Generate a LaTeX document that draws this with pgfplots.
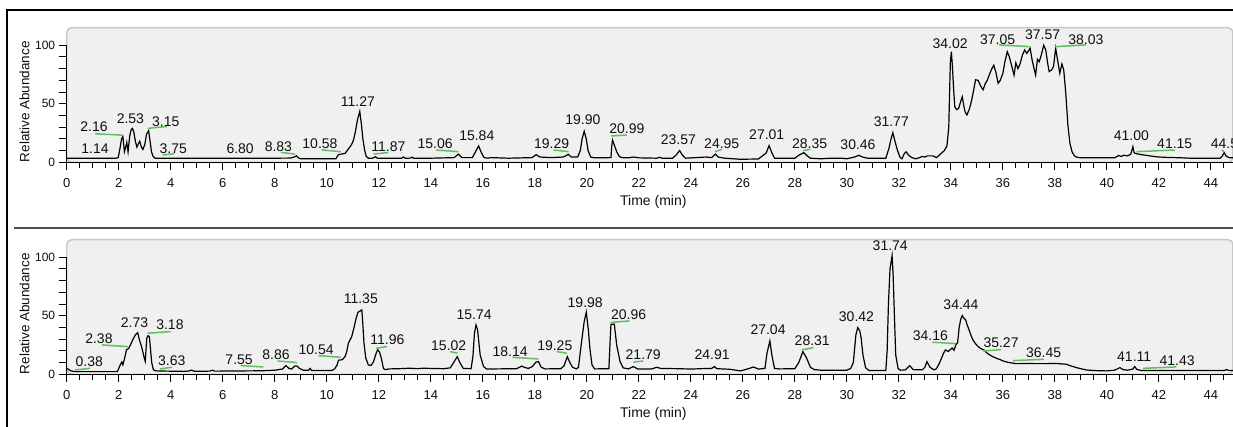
\documentclass[border=0pt]{standalone}
\usepackage{fontspec}
\setmainfont{Liberation Sans}
\usepackage{pgfplots}
\pgfplotsset{compat=1.18}
\usepackage{pgfplotstable}

\definecolor{panelgray}{RGB}{240,240,240}
\definecolor{paneledge}{RGB}{200,200,200}
\definecolor{peakgreen}{RGB}{96,190,96}
\definecolor{sepgray}{RGB}{80,80,80}
\definecolor{labeltext}{RGB}{15,15,15}

% Upper chromatogram: time (min), relative abundance (%)
\pgfplotstableread{
t v
0 3.5
1.9 3.5
1.98 4
2.05 12
2.11 20
2.16 22
2.22 9
2.27 13
2.31 17
2.36 9
2.42 22
2.48 28
2.53 29
2.58 26
2.64 18
2.7 13
2.76 16
2.81 18
2.87 13
2.93 11
3.0 15
3.07 24
3.15 27
3.2 19
3.26 9
3.32 5
3.4 3.5
8.0 3.5
8.6 3.6
8.75 4.5
8.83 5.5
8.9 4
8.98 3
10.35 3
10.45 6.5
10.55 7
10.7 7.5
10.82 11
10.95 15
11.03 19
11.1 26
11.18 36
11.27 43.5
11.33 33
11.39 20
11.46 10
11.52 5
11.6 3.5
11.75 3.4
11.87 4.7
11.95 3.5
12.88 3.5
12.95 4.6
13.02 3.4
13.22 3.6
13.28 4.4
13.34 3.5
14.0 3.5
14.9 4
15.06 7
15.2 4
15.6 4
15.72 9
15.84 14
15.95 8
16.05 4
16.2 3.5
16.3 4
17.0 3.5
17.9 4
18.05 6.5
18.2 4.5
18.6 4
19.1 4.5
19.29 6.8
19.4 4.5
19.65 4.5
19.75 10
19.82 20
19.9 26.5
19.98 20
20.05 10
20.15 4.5
20.3 3.8
20.93 4
20.96 14
20.99 19
21.07 14
21.15 9
21.25 5
21.35 4
21.6 3.8
21.8 4.5
22.0 3.8
22.7 3.5
22.8 4.3
22.9 3.5
23.3 3.5
23.45 6.5
23.57 10
23.68 6
23.8 3.5
24.6 4.5
24.8 4
24.95 7
25.05 4.5
25.3 3.5
25.9 2.6
26.6 2.8
26.9 8
27.01 14.2
27.12 8
27.22 3.5
28.0 3.5
28.15 6
28.35 8.2
28.45 6
28.6 3.5
29.0 3
29.4 3.5
29.8 3.5
30.0 3
30.3 4.5
30.46 6
30.6 4.5
30.8 3.5
31.5 3.5
31.62 12
31.7 20
31.77 25.3
31.85 18
31.95 10
32.05 4
32.12 3
32.2 7
32.28 9
32.38 6
32.5 4
32.65 3
32.8 4
32.9 5
33.0 4.5
33.1 5.5
33.3 5.5
33.45 4
33.6 7
33.75 10
33.85 14
33.92 30
33.98 85
34.02 94.5
34.06 82
34.1 65
34.15 47.5
34.22 45
34.3 46
34.38 52
34.44 56
34.5 48
34.55 43
34.62 40.5
34.72 46
34.8 53
34.88 62
34.95 70.5
35.05 70
35.15 65
35.24 62
35.32 67
35.4 70
35.5 76
35.58 80
35.65 83
35.73 77
35.82 67.5
35.9 70
36.0 76
36.08 86
36.17 94.5
36.25 90
36.32 84
36.43 74.5
36.5 85
36.58 80
36.66 84
36.75 91.5
36.84 96
36.92 93
36.98 95
37.05 97.5
37.12 88
37.2 80
37.26 74.5
37.33 88
37.4 86
37.47 91
37.57 100
37.65 96
37.72 85
37.78 77.5
37.88 79
37.95 82
38.03 97.5
38.1 88
38.19 76
38.27 84
38.34 79
38.42 59
38.5 32
38.58 16
38.66 9
38.75 5.5
38.85 4.3
39.0 3.8
40.3 3.8
40.45 5.8
40.55 5
40.65 6
40.8 5.5
40.92 7
41.0 13.3
41.05 8
41.2 7
41.5 6
41.8 5
42.0 4.5
42.3 4.2
42.6 4
42.9 3.8
43.2 3.5
44.35 3.5
44.43 5
44.51 8.2
44.58 5.5
44.7 4
44.85 3.8
}\upperTIC

% Lower chromatogram
\pgfplotstableread{
t v
0.0 5
0.05 4.5
0.15 3
0.3 2.3
1.95 2.3
2.02 6
2.08 9
2.12 10.5
2.16 8
2.22 13
2.3 21
2.38 22
2.45 25
2.55 30
2.65 34
2.73 35.5
2.8 29
2.86 25
2.92 20
2.98 14
3.02 11
3.08 31
3.13 33
3.18 32
3.22 22
3.27 10
3.33 4
3.4 3
3.6 2.8
4.5 2.5
4.7 2.8
4.8 3.6
4.9 2.6
5.5 2.7
5.6 3.5
5.7 2.7
7.5 3
8.0 3.5
8.3 4.5
8.43 7.4
8.55 5
8.65 4.5
8.78 7.2
8.86 7
8.95 5
9.1 3.5
9.3 3.5
9.36 5
9.42 3.2
10.2 3.2
10.3 4.6
10.4 8
10.45 12
10.6 12.5
10.7 15
10.77 19.4
10.83 26.5
10.96 32.2
11.05 40
11.12 47
11.2 53
11.28 54
11.35 55
11.39 42
11.43 27
11.5 14
11.6 8
11.7 7.5
11.8 10.8
11.9 18
11.96 21
12.03 19
12.1 13.7
12.18 5
12.25 4
12.4 4.6
12.8 4.8
13.2 5.2
13.5 4.8
13.7 5.2
14.0 5
14.5 4.8
14.75 5.5
14.85 9
15.02 15.1
15.12 10
15.25 5
15.55 4.8
15.62 15
15.68 35
15.74 42.2
15.8 38
15.9 16.5
16.03 6.6
16.15 4.5
16.5 4.6
17.3 4.8
17.5 7
17.6 6
17.75 5
17.9 6.5
18.05 10.5
18.14 10.8
18.25 6
18.4 4.6
19.0 4.8
19.12 7
19.25 15
19.35 10
19.45 6
19.6 4.6
19.68 6
19.8 28
19.9 45
19.98 53
20.06 38
20.12 22
20.2 8
20.3 4.6
20.85 4.8
20.9 30
20.93 42.8
21.0 42.8
21.06 42.8
21.15 25
21.28 10.8
21.4 5.5
21.6 4.6
21.79 6.6
21.95 4.6
22.5 4.6
22.69 6
22.85 5
23.5 4.8
24.0 4.5
24.3 4.7
24.6 5
24.8 5
24.91 6.6
25.0 4.8
25.5 4.3
25.9 2.9
26.1 4
26.41 6.2
26.6 4.5
26.85 5
26.93 18
27.04 28.5
27.12 16
27.22 5
27.4 4.6
28.0 4.8
28.15 10
28.31 19.4
28.45 14
28.6 6
28.75 4
29.0 3.5
29.5 3.4
30.0 3.5
30.15 5
30.25 10
30.35 34
30.42 39.9
30.5 37
30.55 31
30.62 16.5
30.72 5.7
30.85 3.2
31.5 3.3
31.55 20
31.6 60
31.66 90
31.74 101.4
31.78 85
31.83 50
31.88 16.5
31.97 5.1
32.05 3.5
32.25 3.8
32.42 7.4
32.55 4
32.9 3.8
33.0 6
33.08 10.8
33.2 6
33.35 3.8
33.44 4.6
33.55 9
33.64 13.7
33.72 18
33.79 20.8
33.9 19.5
33.97 21
34.05 22.5
34.12 20.5
34.2 25.5
34.26 27
34.32 40
34.38 47
34.44 50.2
34.5 48
34.57 46.5
34.63 42
34.7 38
34.78 33
34.85 29.4
34.95 26
35.05 23.7
35.15 22
35.27 20.8
35.4 18
35.5 16.5
35.62 15
35.75 13.7
35.9 12.5
36.01 11.4
36.2 10.2
36.4 9.5
36.52 9.1
37.0 9.2
37.3 9.1
37.67 9.1
38.0 9.3
38.44 8.6
38.6 7.3
38.83 5.7
39.0 4.8
39.21 3.7
39.5 3.2
39.98 2.9
40.3 3.5
40.5 5.7
40.62 4
40.8 3.5
41.0 4.5
41.07 6.6
41.15 4.2
41.3 3.3
42.0 3.3
42.3 3.2
44.5 3.2
44.6 4
44.7 3.2
44.85 3.2
}\lowerTIC

\tikzset{
  peak/.style={font=\fontsize{14pt}{16pt}\selectfont, text=labeltext, inner sep=0pt},
}

\pgfplotsset{
  chrom/.style={
    scale only axis, width=1166.3pt, height=134.6pt,
    xmin=0, xmax=44.85, ymin=0, ymax=115,
    axis x line*=bottom, axis y line*=left,
    axis line style={-, line width=1.1pt, black},
    y axis line style={draw=none},
    xtick={0,2,...,44}, minor xtick={0,0.5,...,44.5},
    ytick={0,10,...,100}, yticklabels={0,,,,,50,,,,,100},
    tick align=outside, major tick length=8pt, minor tick length=5.5pt,
    tick style={black, line width=1pt},
    axis background/.style={fill=panelgray, draw=paneledge, line width=1.5pt, rounded corners=5pt},
    clip=false,
    /pgf/number format/assume math mode=true,
    xticklabel style={font=\fontsize{13pt}{15pt}\selectfont, text=labeltext, yshift=-4.5pt},
    yticklabel style={font=\fontsize{12pt}{14pt}\selectfont, text=labeltext},
    xlabel={Time (min)}, ylabel={Relative Abundance},
    every axis x label/.style={at={(axis description cs:0.503,-0.297)}, anchor=center,
      font=\fontsize{14pt}{16pt}\selectfont, text=labeltext},
    every axis y label/.style={at={(axis description cs:-0.0362,0.45)}, anchor=center, rotate=90,
      font=\fontsize{13.5pt}{15pt}\selectfont, text=labeltext},
  },
  lead/.style={peakgreen, line width=1.5pt, forget plot},
  trace/.style={black, line width=1.2pt},
}

\begin{document}
\begin{tikzpicture}
\useasboundingbox (0pt,0pt) rectangle (1233pt,427pt);

% ---------- upper panel ----------
\begin{axis}[chrom, at={(66.7pt,264.7pt)}, anchor=south west]
  \addplot[trace] table[x=t, y=v] {\upperTIC};
  \draw[line width=1.1pt] (0,0) -- (0,100);
  % leader lines of displaced labels
  \addplot[lead] coordinates {(1.09,24.4) (2.14,23.2)};
  \addplot[lead] coordinates {(3.12,29) (3.85,30.6)};
  \addplot[lead] coordinates {(3.69,6.2) (4.13,7.3)};
  \addplot[lead] coordinates {(8.24,8.4) (8.78,7.0)};
  \addplot[lead] coordinates {(9.81,10.6) (10.54,9.0)};
  \addplot[lead] coordinates {(11.8,7.0) (12.37,8.4)};
  \addplot[lead] coordinates {(14.2,10.5) (15.06,9.1)};
  \addplot[lead] coordinates {(18.72,10.5) (19.3,9.1)};
  \addplot[lead] coordinates {(20.94,22.5) (21.54,23.3)};
  \addplot[lead] coordinates {(24.93,9.1) (25.2,11.1)};
  \addplot[lead] coordinates {(28.32,9.9) (28.6,11.1)};
  \addplot[lead] coordinates {(35.85,100.3) (37.03,98.8)};
  \addplot[lead] coordinates {(38.0,98.8) (39.19,100.3)};
  \addplot[lead] coordinates {(41.14,9.1) (42.61,10.5)};
  \addplot[lead] coordinates {(44.42,10.5) (44.5,9.0)};
  % retention time labels
  \node[peak] at (1.09,12) {1.14};
  \node[peak] at (1.05,30) {2.16};
  \node[peak] at (2.45,37.6) {2.53};
  \node[peak] at (3.81,34.7) {3.15};
  \node[peak] at (4.1,12) {3.75};
  \node[peak] at (6.67,12) {6.80};
  \node[peak] at (8.14,13.3) {8.83};
  \node[peak] at (9.74,15.6) {10.58};
  \node[peak] at (11.2,51.8) {11.27};
  \node[peak] at (12.37,13.3) {11.87};
  \node[peak] at (14.17,15.6) {15.06};
  \node[peak] at (15.77,22.7) {15.84};
  \node[peak] at (18.65,15.6) {19.29};
  \node[peak] at (19.85,36.1) {19.90};
  \node[peak] at (21.54,29) {20.99};
  \node[peak] at (23.52,19.6) {23.57};
  \node[peak] at (25.19,16.2) {24.95};
  \node[peak] at (26.92,23.3) {27.01};
  \node[peak] at (28.57,16.2) {28.35};
  \node[peak] at (30.43,14.8) {30.46};
  \node[peak] at (31.71,34.7) {31.77};
  \node[peak] at (33.97,101.7) {34.02};
  \node[peak] at (35.8,105) {37.05};
  \node[peak] at (37.53,109.4) {37.57};
  \node[peak] at (39.19,105) {38.03};
  \node[peak] at (40.94,22.5) {41.00};
  \node[peak] at (42.61,15.6) {41.15};
  \node[peak] at (44.67,15.6) {44.51};
\end{axis}

% ---------- lower panel ----------
\begin{axis}[chrom, at={(66.7pt,52.7pt)}, anchor=south west]
  \addplot[trace] table[x=t, y=v] {\lowerTIC};
  \draw[line width=1.1pt] (0,0) -- (0,100);
  \addplot[lead] coordinates {(0.32,3.7) (0.9,5.1)};
  \addplot[lead] coordinates {(1.35,25.1) (2.35,23.6)};
  \addplot[lead] coordinates {(3.11,35.1) (4.0,36.5)};
  \addplot[lead] coordinates {(3.59,4.6) (4.04,6.0)};
  \addplot[lead] coordinates {(6.69,7.4) (7.56,6.3)};
  \addplot[lead] coordinates {(8.11,11.4) (8.85,10.0)};
  \addplot[lead] coordinates {(9.68,16.0) (10.54,14.5)};
  \addplot[lead] coordinates {(11.9,22.2) (12.31,23.7)};
  \addplot[lead] coordinates {(14.74,19.4) (15.03,18.0)};
  \addplot[lead] coordinates {(17.14,14.5) (18.14,13.1)};
  \addplot[lead] coordinates {(18.85,19.4) (19.23,18.0)};
  \addplot[lead] coordinates {(20.92,44.3) (21.64,45.6)};
  \addplot[lead] coordinates {(21.79,10.3) (22.17,11.4)};
  \addplot[lead] coordinates {(28.27,20.8) (28.72,22.8)};
  \addplot[lead] coordinates {(33.29,27.4) (34.19,26.2)};
  \addplot[lead] coordinates {(35.24,19.9) (35.94,21.1)};
  \addplot[lead] coordinates {(36.39,11.7) (37.58,12.8)};
  \addplot[lead] coordinates {(41.39,5.1) (42.67,6.3)};
  \node[peak] at (0.87,10.8) {0.38};
  \node[peak] at (1.24,30.2) {2.38};
  \node[peak] at (2.61,44.5) {2.73};
  \node[peak] at (3.97,42.2) {3.18};
  \node[peak] at (4.04,11.4) {3.63};
  \node[peak] at (6.63,12) {7.55};
  \node[peak] at (8.05,16.5) {8.86};
  \node[peak] at (9.59,20.8) {10.54};
  \node[peak] at (11.31,64.4) {11.35};
  \node[peak] at (12.33,29.3) {11.96};
  \node[peak] at (14.69,24.5) {15.02};
  \node[peak] at (15.67,51.3) {15.74};
  \node[peak] at (17.05,19.4) {18.14};
  \node[peak] at (18.77,24.5) {19.25};
  \node[peak] at (19.94,61.6) {19.98};
  \node[peak] at (21.61,51.3) {20.96};
  \node[peak] at (22.17,16.5) {21.79};
  \node[peak] at (24.82,16.5) {24.91};
  \node[peak] at (26.97,37.9) {27.04};
  \node[peak] at (28.67,28.5) {28.31};
  \node[peak] at (30.37,49.3) {30.42};
  \node[peak] at (31.67,110) {31.74};
  \node[peak] at (33.21,33.1) {34.16};
  \node[peak] at (34.39,59.8) {34.44};
  \node[peak] at (35.93,27.4) {35.27};
  \node[peak] at (37.57,18.8) {36.45};
  \node[peak] at (41.05,15.1) {41.11};
  \node[peak] at (42.7,11.7) {41.43};
\end{axis}

% window frame and panel separator
\draw[line width=2pt, black] (6.5pt,0pt) -- (6.5pt,417pt) -- (1240pt,417pt);
\draw[line width=2pt, sepgray] (14pt,198.5pt) -- (1240pt,198.5pt);
\end{tikzpicture}
\end{document}
